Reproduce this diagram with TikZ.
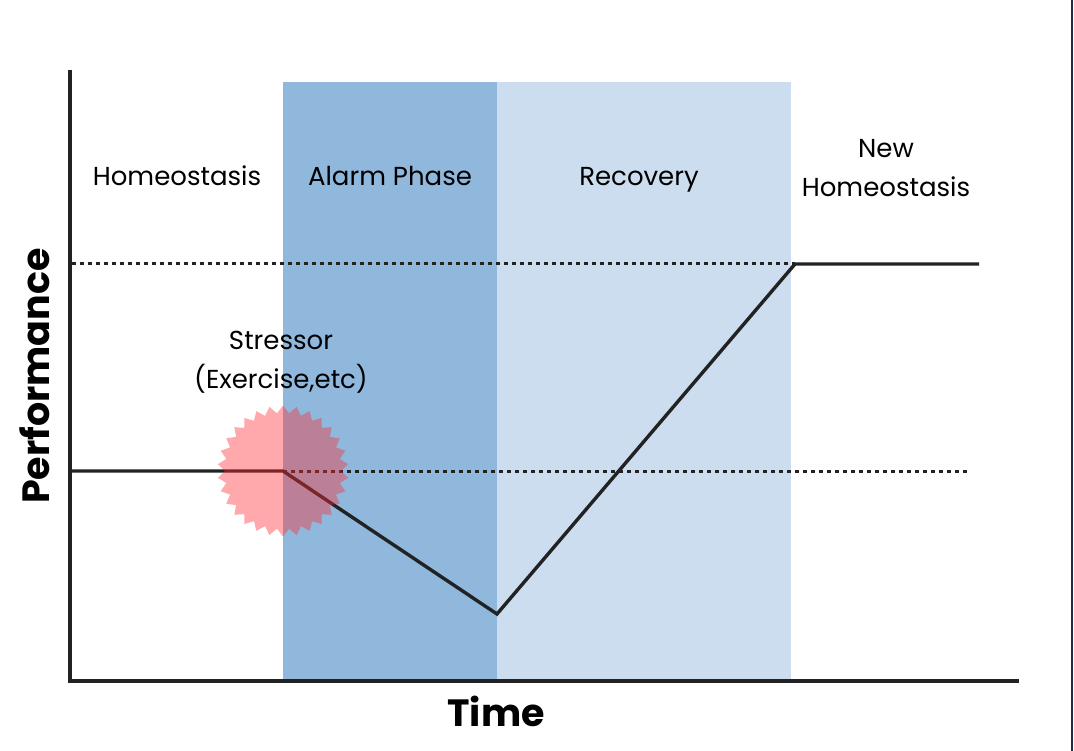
\documentclass[tikz,border=0pt]{standalone}
\usepackage{fontspec}
\setmainfont{Poppins}
\usepackage{tikz}
\usetikzlibrary{shapes.geometric}

\definecolor{alarmblue}{HTML}{8FB8DC}
\definecolor{recoveryblue}{HTML}{CCDDEF}
\definecolor{curvegray}{HTML}{222222}
\definecolor{stressred}{HTML}{FF2A32}
\definecolor{edgenavy}{HTML}{1B2A48}

\tikzset{
  phase/.style={font=\fontsize{26}{39}\selectfont, align=center},
  axislabel/.style={font=\fontsize{38}{42}\selectfont\bfseries},
  level/.style={curvegray, line width=3pt, dash pattern=on 3.5pt off 4.5pt},
}

\begin{document}
\begin{tikzpicture}[x=1pt,y=-1pt]
		\useasboundingbox[fill=white] (0,0) rectangle (1074,751);
		\draw[edgenavy, line width=2pt] (1072,0) -- (1072,751);

		% Phases
		\fill[alarmblue] (283,82) rectangle (497,680);
		\fill[recoveryblue] (497,82) rectangle (791,680);

		% Reference levels
		\draw[level] (72,264) -- (795,264);
		\draw[level] (283,471) -- (968,471);

		% Performance curve
		\draw[curvegray, line width=3.4pt, line join=miter]
			(72,471) -- (283,471) -- (497,614) -- (795,264) -- (979,264);

		% Stressor
		\node[star, star points=30, star point ratio=1.13, minimum size=131pt,
			inner sep=0pt, fill=stressred, fill opacity=0.4] (burst) at (283,471) {};

		% Axes
		\draw[curvegray, line width=3.4pt] (70,70) -- (70,681) -- (1019,681);

		% Labels
		\node[phase, anchor=base] (homeo) at (177,186) {Homeostasis};
		\node[phase, anchor=base] (alarm) at (390,186) {Alarm Phase};
		\node[phase, anchor=base] (recov) at (639,186) {Recovery};
		\node[phase] (newhomeo) at (886,168) {New\\Homeostasis};
		\node[phase] (stressor) at (281,362) {Stressor\\(Exercise,etc)};
		\node[axislabel, rotate=90] (perf) at (35,376) {Performance};
		\node[axislabel] (time) at (496,711) {Time};
	\end{tikzpicture}
\end{document}
